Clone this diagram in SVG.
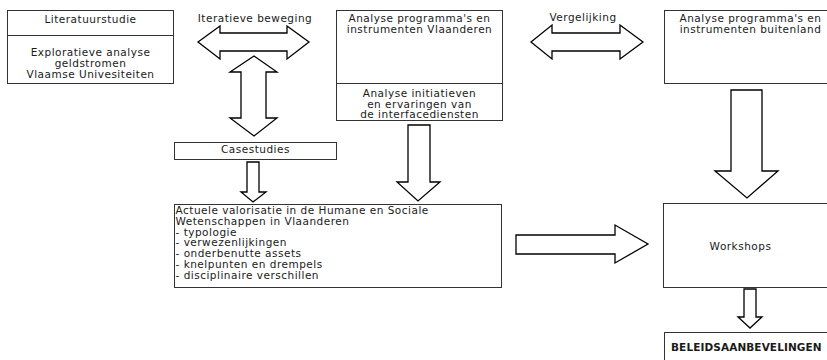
<svg xmlns="http://www.w3.org/2000/svg" width="827" height="360" viewBox="0 0 827 360">
<style>
.box{fill:#fff;stroke:#333;stroke-width:1}
.div{stroke:#333;stroke-width:1}
.arr{fill:#fff;stroke:#000;stroke-width:1.3;stroke-linejoin:miter}
text{font-family:"DejaVu Sans",Verdana,sans-serif;font-size:10.5px;letter-spacing:0.5px;fill:#1a1a1a}
.c{text-anchor:middle}
.b{font-weight:bold;font-size:10.5px;letter-spacing:0.1px}
</style>
<rect width="827" height="360" fill="#fff"/>
<g id="connectors">
<polygon class="arr" points="198,42 220,26 220,33 287,33 287,26 309,42 287,59 287,51 220,51 220,59"/>
<polygon class="arr" points="254,56 277,72 266,72 266,118 277,118 254,136 230,118 241,118 241,72 230,72"/>
<polygon class="arr" points="531,42 552,25 552,33 620,33 620,25 643,42 620,59 620,51 552,51 552,59"/>
<polygon class="arr" points="247,162 259,162 259,192 266,192 253,202 241,192 247,192"/>
<polygon class="arr" points="408,125 430,125 430,182 440,182 418,201 397,182 408,182"/>
<polygon class="arr" points="731,90 762,90 762,171 778,171 747,198 715,171 731,171"/>
<polygon class="arr" points="516,235 615,235 615,225 648,244 615,263 615,254 516,254"/>
<polygon class="arr" points="744,289 756,289 756,317 762,317 750,328 738,317 744,317"/>
<text class="c" x="255" y="22">Iteratieve beweging</text>
<text class="c" x="583" y="21">Vergelijking</text>
</g>
<g id="literatuur">
<rect class="box" x="7.5" y="10.5" width="166" height="73"/>
<line class="div" x1="7.5" y1="35.5" x2="173.5" y2="35.5"/>
<text class="c" x="90.5" y="23">Literatuurstudie</text>
<text class="c" x="90.5" y="56">Exploratieve analyse</text>
<text class="c" x="90.5" y="67">geldstromen</text>
<text class="c" x="90.5" y="77.5">Vlaamse Univesiteiten</text>
</g>
<g id="vlaanderen">
<rect class="box" x="336.5" y="10.5" width="166" height="110"/>
<line class="div" x1="336.5" y1="83.5" x2="502.5" y2="83.5"/>
<text class="c" x="419.5" y="22">Analyse programma's en</text>
<text class="c" x="419.5" y="33">instrumenten Vlaanderen</text>
<text class="c" x="419.5" y="97">Analyse initiatieven</text>
<text class="c" x="419.5" y="107.5">en ervaringen van</text>
<text class="c" x="419.5" y="118">de interfacediensten</text>
</g>
<g id="buitenland">
<rect class="box" x="664.5" y="10.5" width="170" height="73"/>
<text class="c" x="750.5" y="22">Analyse programma's en</text>
<text class="c" x="750.5" y="33">instrumenten buitenland</text>
</g>
<g id="casestudies">
<rect class="box" x="174.5" y="142.5" width="162" height="17"/>
<text class="c" x="255.5" y="152.5">Casestudies</text>
</g>
<g id="actuele">
<rect class="box" x="174.5" y="204.5" width="327" height="83"/>
<text x="175.5" y="214">Actuele valorisatie in de Humane en Sociale</text>
<text x="175.5" y="224.8">Wetenschappen in Vlaanderen</text>
<text x="175.5" y="235.6">- typologie</text>
<text x="175.5" y="246.4">- verwezenlijkingen</text>
<text x="175.5" y="257.2">- onderbenutte assets</text>
<text x="175.5" y="268">- knelpunten en drempels</text>
<text x="175.5" y="278.8">- disciplinaire verschillen</text>
</g>
<g id="workshops">
<rect class="box" x="663.5" y="203.5" width="170" height="84"/>
<text class="c" x="740.5" y="250">Workshops</text>
</g>
<g id="beleid">
<rect class="box" x="664.5" y="332.5" width="170" height="40"/>
<text class="b" x="671" y="351">BELEIDSAANBEVELINGEN</text>
</g>
</svg>
